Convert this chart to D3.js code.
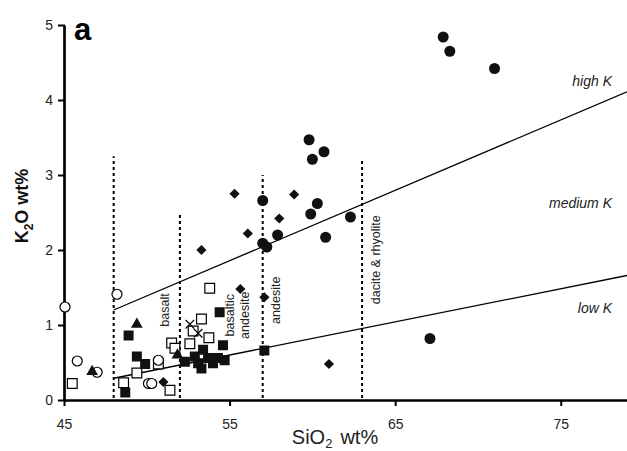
<!DOCTYPE html>
<html>
<head>
<meta charset="utf-8">
<script src="https://cdn.jsdelivr.net/npm/d3@7"></script>
<style>
  body { margin: 0; background: #fff; }
  svg { display: block; font-family: "Liberation Sans", Arial, sans-serif; }
</style>
</head>
<body>
<svg id="chart" width="627" height="451"></svg>
<script>
// K2O vs SiO2 diagram
const xTicks = [45, 55, 65, 75];
const yTicks = [0, 1, 2, 3, 4, 5];

const filledCircle = [[67.9,4.84],[68.3,4.65],[71.0,4.42],[59.8,3.47],[60.7,3.31],[60.0,3.21],
  [60.3,2.62],[59.9,2.48],[62.3,2.44],[60.8,2.17],[57.0,2.66],[57.9,2.20],[57.0,2.09],[57.25,2.04],[67.1,0.82]];
const filledDiamond = [[55.3,2.75],[58.9,2.74],[58.0,2.42],[56.1,2.22],[53.3,2.0],[55.65,1.48],
  [57.1,1.37],[61.0,0.48],[51.0,0.24]];
const openCircle = [[45.06,1.24],[48.2,1.41],[45.8,0.52],[47.0,0.37],[50.1,0.22],[50.3,0.22],[50.7,0.53]];
const openSquare = [[45.5,0.22],[48.6,0.23],[49.4,0.36],[50.7,0.48],[51.4,0.13],[53.8,1.49],[53.3,1.08],
  [52.8,0.92],[53.75,0.83],[51.5,0.76],[51.7,0.69],[52.6,0.75]];
const crosses = [[52.6,1.01],[53.1,0.89]];
const filledTriangle = [[49.4,1.01],[46.7,0.38],[51.85,0.6]];
const filledSquare = [[48.9,0.86],[49.4,0.58],[49.9,0.48],[48.7,0.1],[54.4,1.17],[54.6,0.73],[57.1,0.66],
  [53.4,0.67],[52.9,0.58],[53.7,0.56],[54.3,0.56],[54.7,0.53],[52.3,0.51],[53.3,0.42],[53.1,0.49],[54.0,0.49]];

// series boundaries (SiO2, K2O)
const highKLine = [[48,1.2],[79,4.11]];
const lowKLine = [[48,0.29],[79,1.66]];
// rock-type dividers: SiO2 and top K2O
const dividers = [[48,3.25],[52,2.5],[57,3.0],[63,3.2]];

const svg = d3.select("#chart");
const x = d3.scaleLinear().domain([45, 79]).range([64, 627]);
const y = d3.scaleLinear().domain([0, 5]).range([400, 25]);

// dotted dividers
svg.selectAll(".div")
  .data(dividers)
  .enter()
  .append("line")
  .attr("x1", d => x(d[0])).attr("x2", d => x(d[0]))
  .attr("y1", y(0) - 2).attr("y2", d => y(d[1]))
  .attr("stroke", "#000").attr("stroke-width", 2)
  .attr("stroke-dasharray", "3,3");

// boundary lines
const line = d3.line().x(d => x(d[0])).y(d => y(d[1]));
[highKLine, lowKLine].forEach(l => {
  svg.append("path").attr("d", line(l))
    .attr("fill", "none").attr("stroke", "#000").attr("stroke-width", 1.3);
});

// axes
const xAxis = svg.append("g")
  .attr("transform", `translate(0,${y(0)})`)
  .call(d3.axisBottom(x).tickValues(xTicks).tickSize(6).tickSizeOuter(0).tickPadding(13));
const yAxis = svg.append("g")
  .attr("transform", `translate(${x(45)},0)`)
  .call(d3.axisLeft(y).tickValues(yTicks).tickFormat(d3.format("d"))
    .tickSize(6).tickSizeOuter(0).tickPadding(5));
yAxis.selectAll(".tick line").attr("x1", 1);
[xAxis, yAxis].forEach(a => {
  a.select(".domain").attr("stroke-width", 2.7);
  a.selectAll(".tick line").attr("stroke-width", 2);
  a.selectAll("text").attr("font-size", 14).attr("fill", "#222")
    .attr("font-family", "Liberation Sans, Arial, sans-serif");
});

// markers
const sym = (type, size) => d3.symbol().type(type).size(size)();

svg.selectAll(".osq").data(openSquare).enter().append("path")
  .attr("transform", d => `translate(${x(d[0])},${y(d[1])})`)
  .attr("d", sym(d3.symbolSquare, 95))
  .attr("fill", "#fff").attr("stroke", "#000").attr("stroke-width", 1.2);

svg.selectAll(".oci").data(openCircle).enter().append("circle")
  .attr("cx", d => x(d[0])).attr("cy", d => y(d[1])).attr("r", 5)
  .attr("fill", "#fff").attr("stroke", "#000").attr("stroke-width", 1.2);

svg.selectAll(".fsq").data(filledSquare).enter().append("path")
  .attr("transform", d => `translate(${x(d[0])},${y(d[1])})`)
  .attr("d", sym(d3.symbolSquare, 100))
  .attr("fill", "#111");

svg.selectAll(".ftr").data(filledTriangle).enter().append("path")
  .attr("transform", d => `translate(${x(d[0])},${y(d[1])})`)
  .attr("d", sym(d3.symbolTriangle, 60))
  .attr("fill", "#111");

svg.selectAll(".fdi").data(filledDiamond).enter().append("path")
  .attr("transform", d => `translate(${x(d[0])},${y(d[1])}) rotate(45)`)
  .attr("d", sym(d3.symbolSquare, 52))
  .attr("fill", "#111");

svg.selectAll(".fci").data(filledCircle).enter().append("circle")
  .attr("cx", d => x(d[0])).attr("cy", d => y(d[1])).attr("r", 5.5)
  .attr("fill", "#111");

svg.selectAll(".crs").data(crosses).enter().append("path")
  .attr("transform", d => `translate(${x(d[0])},${y(d[1])}) rotate(45)`)
  .attr("d", "M-6,0H6M0,-6V6")
  .attr("fill", "none").attr("stroke", "#000").attr("stroke-width", 1.1);

// rock type labels (rotated)
const rockLabels = [
  { t: "basalt", sx: 51.1, ky: 1.2 },
  { t: "basaltic", sx: 55.0, ky: 1.13 },
  { t: "andesite", sx: 55.9, ky: 1.13 },
  { t: "andesite", sx: 57.75, ky: 1.33 },
  { t: "dacite & rhyolite", sx: 63.8, ky: 1.87 }
];
svg.selectAll(".rock").data(rockLabels).enter().append("text")
  .attr("transform", d => `translate(${x(d.sx)},${y(d.ky)}) rotate(-90)`)
  .attr("text-anchor", "middle")
  .attr("dy", "0.35em")
  .attr("font-size", 12.5)
  .attr("fill", "#222")
  .text(d => d.t);

// series labels
const seriesLabels = [["high K", 4.25], ["medium K", 2.62], ["low K", 1.23]];
svg.selectAll(".ser").data(seriesLabels).enter().append("text")
  .attr("x", 612).attr("y", d => y(d[1]))
  .attr("dy", "0.35em")
  .attr("text-anchor", "end")
  .attr("font-style", "italic")
  .attr("font-size", 14)
  .attr("fill", "#222")
  .text(d => d[0]);

// panel letter
svg.append("text").attr("x", 74).attr("y", 40)
  .attr("font-size", 31).attr("font-weight", "bold").text("a");

// axis titles
const yt = svg.append("text")
  .attr("transform", `translate(28,206) rotate(-90)`)
  .attr("text-anchor", "middle")
  .attr("font-size", 18).attr("font-weight", "bold").attr("fill", "#111");
yt.append("tspan").text("K");
yt.append("tspan").attr("font-size", 12).attr("dy", 5).text("2");
yt.append("tspan").attr("dy", -5).text("O wt%");

const xt = svg.append("text")
  .attr("x", 335).attr("y", 444)
  .attr("text-anchor", "middle")
  .attr("font-size", 20).attr("fill", "#222");
xt.append("tspan").text("SiO");
xt.append("tspan").attr("font-size", 13).attr("dy", 4).text("2");
xt.append("tspan").attr("dy", -4).attr("dx", 8).text("wt%");
</script>
</body>
</html>
